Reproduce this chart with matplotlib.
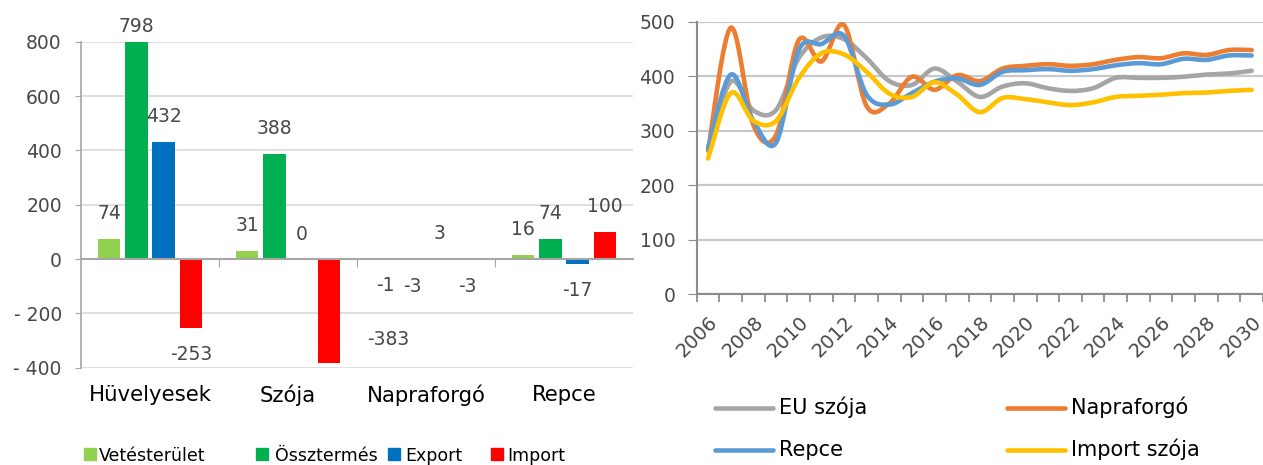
import numpy as np
import matplotlib
matplotlib.use("Agg")
import matplotlib.pyplot as plt
from matplotlib.path import Path
from matplotlib.patches import PathPatch, Rectangle
from matplotlib.lines import Line2D

plt.rcParams['font.family'] = ['DejaVu Sans']

# ---------------- data ----------------
categories = ['Hüvelyesek', 'Szója', 'Napraforgó', 'Repce']
bar_series = ['Vetésterület', 'Össztermés', 'Export', 'Import']
vetesterulet = [74, 31, -1, 16]
ossztermes = [798, 388, -3, 74]
export = [432, 0, 3, -17]
import_vals = [-253, -383, -3, 100]
bar_colors = ['#92D050', '#00B050', '#0070C0', '#FF0000']
left_yticks = [-400, -200, 0, 200, 400, 600, 800]
left_yticklabels = ['- 400', '- 200', '0', '200', '400', '600', '800']

years = list(range(2006, 2031))
eu_szoja = [263, 390, 337, 338, 433, 471, 468, 433, 391, 384, 414, 390, 362,
            381, 387, 378, 373, 378, 397, 397, 397, 399, 403, 405, 410]
napraforgo = [264, 489, 310, 292, 466, 427, 494, 345, 350, 399, 375, 402, 391,
              414, 419, 422, 419, 422, 430, 435, 433, 442, 439, 448, 448]
repce = [268, 403, 318, 278, 448, 459, 474, 366, 348, 369, 390, 396, 384,
         408, 411, 413, 410, 413, 420, 424, 422, 432, 430, 438, 438]
import_szoja = [249, 369, 318, 318, 396, 442, 440, 408, 368, 362, 389, 366, 334,
                360, 358, 352, 347, 352, 362, 364, 366, 369, 370, 373, 375]
line_names = ['EU szója', 'Napraforgó', 'Repce', 'Import szója']
line_colors = ['#A5A5A5', '#ED7D31', '#5B9BD5', '#FFC000']

# ---------------- figure ----------------
W, H = 1263, 465
fig = plt.figure(figsize=(W / 100, H / 100), dpi=100)


def px_rect(l, t, r, b):
    return [l / W, 1 - b / H, (r - l) / W, (b - t) / H]


TXT = '#484848'

# ---------------- left: bar chart ----------------
ax1 = fig.add_axes(px_rect(81, 41.7, 633, 367.7))
ax1.set_xlim(-0.5, 3.5)
ax1.set_ylim(-400, 800)
ax1.set_axisbelow(True)
ax1.yaxis.grid(True, color='#D9D9D9', lw=1.2)
for s in ['top', 'right']:
    ax1.spines[s].set_visible(False)
ax1.spines['left'].set_color('#A6A6A6')
ax1.spines['left'].set_linewidth(1.2)
ax1.spines['bottom'].set_position(('data', 0))
ax1.spines['bottom'].set_color('#A6A6A6')
ax1.spines['bottom'].set_linewidth(1.5)
ax1.set_yticks(left_yticks)
ax1.set_yticklabels(left_yticklabels)
ax1.tick_params(axis='y', direction='out', length=4.3, color='#A6A6A6',
                labelsize=13.5, labelcolor=TXT, pad=9.5)
ax1.set_xticks([0.5, 1.5, 2.5])
ax1.set_xticklabels([])
ax1.tick_params(axis='x', direction='out', length=5.5, color='#A6A6A6')

series_vals = [vetesterulet, ossztermes, export, import_vals]
step, width = 0.198, 0.162
offsets = (np.arange(len(bar_series)) - 1.5) * step
x = np.arange(len(categories))
# special label offsets (points): (series index, category index) -> (dx, dy)
label_shift = {(1, 0): (0, 11), (3, 1): (42.5, 17)}
for j, (vals, col) in enumerate(zip(series_vals, bar_colors)):
    ax1.bar(x + offsets[j], vals, width=width, color=col, zorder=2)
    for i, v in enumerate(vals):
        dx, dy = label_shift.get((j, i), (0, 18 if v >= 0 else -19))
        ax1.annotate(str(v), xy=(x[i] + offsets[j], v), xytext=(dx, dy),
                     textcoords='offset points', ha='center', va='center',
                     fontsize=13.5, color=TXT, annotation_clip=False)

for i, c in enumerate(categories):
    ax1.text(i, -0.0837, c, transform=ax1.get_xaxis_transform(),
             ha='center', va='center', fontsize=15.3, color='black')

# left legend
sq_x = [84, 256, 388, 491]
tx_x = [99, 275, 405, 507]
for name, col, sx, tx in zip(bar_series, bar_colors, sq_x, tx_x):
    fig.patches.append(Rectangle((sx / W, 1 - 460 / H), 12 / W, 12 / H,
                                 transform=fig.transFigure, color=col))
    fig.text(tx / W, 1 - 461 / H, name, ha='left', va='baseline',
             fontsize=12.5, color='black')

# ---------------- right: line chart ----------------
ax2 = fig.add_axes(px_rect(696.8, 21.7, 1263, 294.2))
ax2.set_xlim(2005.5, 2005.5 + (1263 - 696.8) / 22.8)
ax2.set_ylim(0, 500)
ax2.set_axisbelow(True)
ax2.yaxis.grid(True, color='#C8C8C8', lw=1.6)
for s in ['top', 'right']:
    ax2.spines[s].set_visible(False)
for s in ['left', 'bottom']:
    ax2.spines[s].set_color('#8C8C8C')
    ax2.spines[s].set_linewidth(1.5)
ax2.set_yticks(range(0, 501, 100))
ax2.tick_params(axis='y', direction='out', length=6.5, color='#8C8C8C',
                labelsize=13.5, labelcolor=TXT, pad=9)
ax2.set_xticks([2005.5 + k for k in range(26)])
ax2.set_xticklabels([])
ax2.tick_params(axis='x', which='major', direction='out', length=5.5,
                color='#8C8C8C', width=1.3)
ax2.set_xticks(years[::2], minor=True)
ax2.set_xticklabels([str(y) for y in years[::2]], minor=True, rotation=45,
                    ha='right', rotation_mode='anchor')
ax2.tick_params(axis='x', which='minor', length=0, pad=13.5, labelsize=14,
                labelcolor=TXT)


def smooth_path(xs, ys):
    pts = np.column_stack([xs, ys]).astype(float)
    n = len(pts)
    verts = [pts[0]]
    codes = [Path.MOVETO]
    for i in range(n - 1):
        p0 = pts[i - 1] if i > 0 else pts[i]
        p1 = pts[i]
        p2 = pts[i + 1]
        p3 = pts[i + 2] if i + 2 < n else pts[i + 1]
        c1 = p1 + (p2 - p0) / 6.0
        c2 = p2 - (p3 - p1) / 6.0
        verts += [c1, c2, p2]
        codes += [Path.CURVE4] * 3
    return Path(verts, codes)


for vals, col in zip([eu_szoja, napraforgo, repce, import_szoja], line_colors):
    patch = PathPatch(smooth_path(years, vals), facecolor='none', edgecolor=col,
                      lw=3.3, capstyle='round', joinstyle='round',
                      transform=ax2.transData, zorder=3)
    ax2.add_patch(patch)

# right legend
leg_pos = [(715, 773, 779, 408, 414), (1007, 1065, 1071, 408, 414),
           (715, 773, 779, 450, 456), (1007, 1065, 1071, 450, 456)]
for name, col, (l0, l1, tx, ly, by) in zip(line_names, line_colors, leg_pos):
    fig.lines.append(Line2D([l0 / W, l1 / W], [1 - ly / H, 1 - ly / H],
                            transform=fig.transFigure, color=col, lw=3.3,
                            solid_capstyle='round'))
    fig.text(tx / W, 1 - by / H, name, ha='left', va='baseline',
             fontsize=15, color='black')

fig.savefig('out.png', dpi=100)
